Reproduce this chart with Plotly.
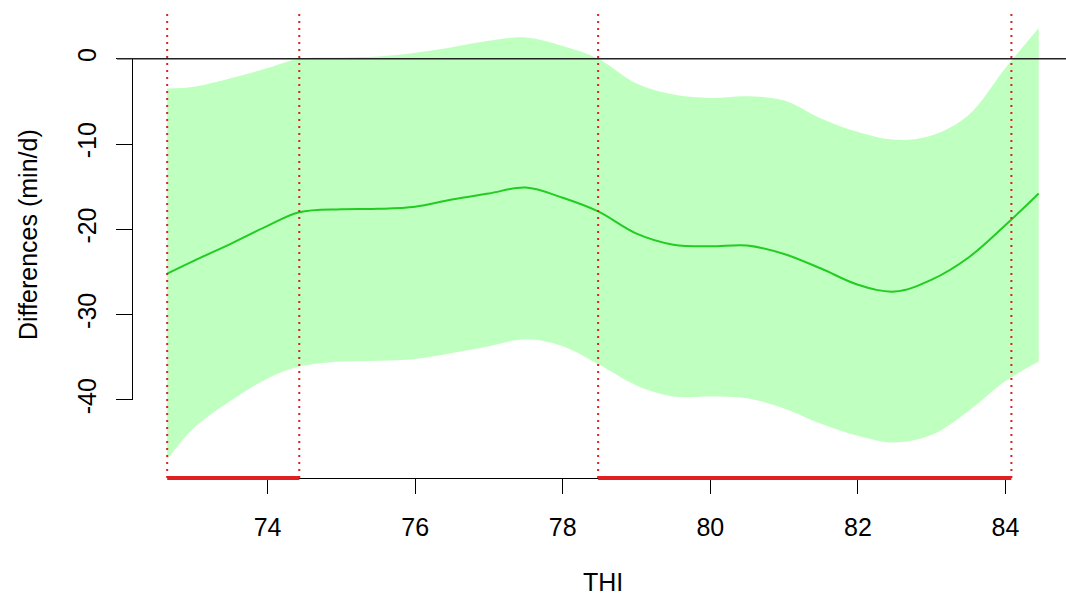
import plotly.graph_objects as go

# THI grid and estimated difference curve with its confidence band (min/d)
thi = [72.64, 73.0, 73.5, 74.0, 74.43, 75.0, 75.5, 76.0, 76.5, 77.0, 77.5, 78.0, 78.48,
       79.0, 79.5, 80.0, 80.5, 81.0, 81.5, 82.0, 82.5, 83.0, 83.5, 84.0, 84.45]
fit = [-25.2, -23.7, -21.7, -19.6, -18.0, -17.65, -17.6, -17.35, -16.5, -15.8, -15.1, -16.3, -17.9,
       -20.5, -21.8, -22.0, -21.9, -22.9, -24.6, -26.5, -27.3, -25.9, -23.3, -19.5, -15.8]
upper = [-3.5, -3.3, -2.3, -1.1, 0.0, 0.15, 0.25, 0.7, 1.35, 2.1, 2.5, 1.5, 0.0,
         -2.9, -4.2, -4.6, -4.4, -4.9, -7.0, -8.6, -9.5, -9.0, -6.6, -1.1, 3.6]
lower = [-47.0, -43.3, -40.1, -37.5, -36.1, -35.5, -35.4, -35.2, -34.5, -33.7, -32.9, -33.7, -35.8,
         -38.3, -39.6, -39.6, -39.8, -41.0, -42.8, -44.2, -45.0, -44.1, -41.3, -37.8, -35.5]

# THI limits where the band crosses zero, and the intervals of significant difference
sig_bounds = [72.64, 74.43, 78.48, 84.08]
sig_intervals = [(72.64, 74.43), (78.48, 84.08)]

x_ticks = [74, 76, 78, 80, 82, 84]
y_ticks = [0, -10, -20, -30, -40]

# plotting region
X_RANGE = [71.96, 84.82]
Y_RANGE = [-49.16, 5.36]
Y_AXIS_SHIFT = 0.017

FONT = "Liberation Sans, Arial, sans-serif"
BAND = "#BFFFBF"
LINE = "#22CC22"
RED = "#E02020"

fig = go.Figure()

fig.add_trace(go.Scatter(x=thi, y=lower, mode="lines", line=dict(width=0, shape="spline"),
                         hoverinfo="skip", showlegend=False))
fig.add_trace(go.Scatter(x=thi, y=upper, mode="lines", line=dict(width=0, shape="spline"),
                         fill="tonexty", fillcolor=BAND, hoverinfo="skip", showlegend=False))
fig.add_trace(go.Scatter(x=thi, y=fit, mode="lines", line=dict(color=LINE, width=2, shape="spline"),
                         showlegend=False))

# empty traces that carry the separate tick axes
fig.add_trace(go.Scatter(x=[], y=[], xaxis="x2", yaxis="y2", showlegend=False, hoverinfo="skip"))
fig.add_trace(go.Scatter(x=[], y=[], xaxis="x3", yaxis="y3", showlegend=False, hoverinfo="skip"))

# reference line at zero
fig.add_shape(type="line", xref="paper", yref="y", x0=0, x1=1, y0=0, y1=0,
              line=dict(color="#222222", width=1.6), layer="above")

# boundaries of the significance regions
for b in sig_bounds:
    fig.add_shape(type="line", xref="x", yref="paper", x0=b, x1=b, y0=0, y1=1,
                  line=dict(color=RED, width=2, dash="2px,5px"), layer="above")

# intervals of significant difference along the bottom
for a, b in sig_intervals:
    fig.add_shape(type="line", xref="x", yref="paper", x0=a, x1=b, y0=0, y1=0,
                  line=dict(color=RED, width=4), layer="above")

xs = X_RANGE[1] - X_RANGE[0]
ys = Y_RANGE[1] - Y_RANGE[0]
x2_dom = [(x_ticks[0] - X_RANGE[0]) / xs, (x_ticks[-1] - X_RANGE[0]) / xs]
y3_dom = [(min(y_ticks) - Y_RANGE[0]) / ys, (max(y_ticks) - Y_RANGE[0]) / ys]

tick_font = dict(family=FONT, size=25, color="black")

fig.update_layout(
    width=1066, height=600,
    margin=dict(l=117, r=0, t=13, b=122),
    paper_bgcolor="white", plot_bgcolor="rgba(0,0,0,0)",
    xaxis=dict(range=X_RANGE, visible=False, domain=[0, 1], automargin=False),
    yaxis=dict(range=Y_RANGE, visible=False, domain=[0, 1], automargin=False),
    xaxis2=dict(domain=x2_dom, range=[x_ticks[0], x_ticks[-1]], anchor="y2", automargin=False,
                showline=True, linecolor="black", linewidth=1.3,
                ticks="outside", ticklen=15, tickwidth=1.3, tickcolor="black",
                tickvals=x_ticks, ticktext=[str(v) for v in x_ticks], tickfont=tick_font,
                ticklabelstandoff=12, showgrid=False, zeroline=False),
    yaxis2=dict(domain=[0, 1], range=Y_RANGE, anchor="x2", visible=False, automargin=False),
    xaxis3=dict(domain=[Y_AXIS_SHIFT, 1], range=[0, 1], anchor="y3", visible=False,
                automargin=False),
    yaxis3=dict(domain=y3_dom, range=[min(y_ticks), max(y_ticks)], anchor="x3", automargin=False,
                showline=True, linecolor="black", linewidth=1.3,
                ticks="outside", ticklen=16, tickwidth=1.3, tickcolor="black",
                tickvals=y_ticks, ticktext=[str(v) for v in y_ticks], tickfont=tick_font,
                tickangle=-90, ticklabelstandoff=10, showgrid=False, zeroline=False),
    annotations=[
        dict(text="THI", xref="paper", yref="paper", x=(603 - 117) / 949, y=-(582 - 478) / 465,
             showarrow=False, font=tick_font, xanchor="center", yanchor="middle"),
        dict(text="Differences (min/d)", xref="paper", yref="paper", x=-(117 - 28) / 949,
             y=(478 - 235) / 465, showarrow=False, font=tick_font, textangle=-90,
             xanchor="center", yanchor="middle"),
    ],
)

fig.write_html("out.html")
